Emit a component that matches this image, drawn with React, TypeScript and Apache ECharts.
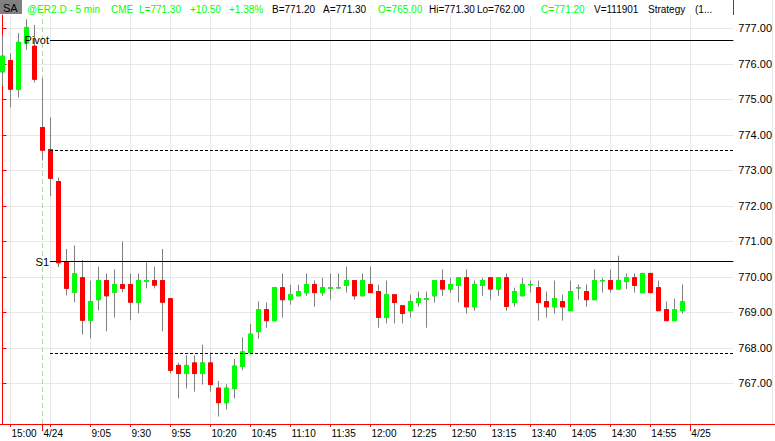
import React, { useEffect, useRef } from "react";
import * as echarts from "echarts";

// ---- DATA (5-min bars: 4/23 14:55..15:15, 4/24 8:35..15:15) ----
const opens = [
  775.78, 776.10, 775.29, 776.59, 776.50, 774.21, 773.59, 772.69, 770.43, 769.57,
  769.98, 768.78, 769.36, 769.90, 769.57, 769.79, 769.79, 769.29, 769.88, 769.90,
  769.90, 769.39, 767.51, 767.28, 767.58, 767.28, 767.58, 766.87, 766.46, 766.86,
  767.48, 767.87, 768.46, 769.08, 768.77, 769.70, 769.36, 769.47, 769.56, 769.79,
  769.56, 769.68, 769.69, 769.76, 769.90, 769.47, 769.79, 769.59, 768.86, 769.50,
  769.19, 769.05, 769.28, 769.37, 769.47, 769.90, 769.66, 769.76, 769.98, 769.16,
  769.76, 769.98, 769.66, 769.98, 769.28, 769.47, 769.78, 769.70, 769.31, 769.16,
  769.31, 769.05, 769.69, 769.59, 769.36, 769.89, 769.90, 769.66, 769.87, 769.98,
  769.56, 770.10, 769.70, 769.08, 768.77, 769.05,
];
const closes = [
  776.22, 775.29, 776.61, 777.03, 775.57, 773.57, 772.78, 770.40, 769.68, 770.09,
  768.78, 769.31, 769.90, 769.47, 769.79, 769.68, 769.29, 769.90, 769.90, 769.77,
  769.29, 767.37, 767.28, 767.51, 767.28, 767.58, 766.97, 766.46, 766.87, 767.49,
  767.89, 768.39, 769.08, 768.77, 769.70, 769.36, 769.50, 769.59, 769.79, 769.56,
  769.70, 769.70, 769.70, 769.90, 769.47, 769.90, 769.56, 768.86, 769.50, 769.28,
  768.97, 769.31, 769.39, 769.39, 769.90, 769.66, 769.79, 769.98, 769.16, 769.79,
  769.90, 769.66, 769.98, 769.17, 769.59, 769.79, 769.79, 769.28, 769.16, 769.39,
  769.16, 769.59, 769.70, 769.36, 769.90, 769.90, 769.66, 769.90, 769.98, 769.76,
  770.10, 769.56, 769.05, 768.77, 769.08, 769.30,
];
const lows = [
  775.38, 774.78, 775.06, 776.40, 775.48, 773.28, 772.28, 770.28, 769.48, 769.29,
  768.38, 768.27, 769.06, 768.47, 768.86, 769.57, 768.78, 768.98, 769.68, 769.68,
  768.47, 767.28, 766.58, 766.86, 766.77, 766.97, 766.77, 766.07, 766.27, 766.58,
  767.37, 767.82, 768.26, 768.57, 768.75, 768.86, 769.22, 769.47, 769.47, 769.16,
  769.47, 769.36, 769.68, 769.56, 769.36, 769.47, 769.56, 768.57, 768.69, 768.69,
  768.69, 768.86, 769.16, 768.57, 769.28, 769.47, 769.56, 769.28, 768.97, 769.05,
  769.47, 769.36, 769.47, 769.05, 769.16, 769.47, 769.56, 768.77, 768.86, 768.97,
  768.77, 769.05, 769.36, 769.16, 769.36, 769.56, 769.56, 769.65, 769.66, 769.56,
  769.54, 769.54, 769.05, 768.77, 768.77, 768.97,
];
const highs = [
  776.81, 776.30, 776.87, 777.26, 777.10, 775.60, 774.50, 772.80, 770.79, 770.89,
  770.48, 769.90, 770.29, 770.10, 770.21, 771.00, 770.10, 770.10, 770.41, 770.29,
  770.79, 769.40, 767.59, 767.79, 767.79, 768.09, 767.87, 767.07, 766.98, 767.69,
  768.30, 768.68, 769.31, 769.28, 769.72, 770.10, 769.78, 769.78, 770.10, 769.90,
  769.98, 770.10, 770.10, 770.29, 769.90, 770.10, 770.29, 769.78, 769.90, 769.50,
  769.19, 769.50, 769.59, 769.59, 769.92, 770.21, 769.98, 769.99, 770.21, 769.90,
  769.98, 769.99, 770.00, 770.10, 769.70, 769.98, 769.90, 769.90, 769.59, 769.90,
  769.50, 769.90, 769.79, 769.79, 770.21, 769.98, 770.21, 770.60, 770.10, 770.10,
  770.12, 770.12, 769.90, 769.31, 769.39, 769.79,
];

// x-axis labels (bar index -> label)
const xLabelBars = [1, 5, 11, 16, 21, 26, 31, 36, 41, 46, 51, 56, 61, 66, 71, 76, 81, 86];
const xLabelTexts = [
  "15:00", "4/24", "9:05", "9:30", "9:55", "10:20", "10:45", "11:10", "11:35",
  "12:00", "12:25", "12:50", "13:15", "13:40", "14:05", "14:30", "14:55", "4/25",
];
const xGridBars = [1, 6, 11, 16, 21, 26, 31, 36, 41, 46, 51, 56, 61, 66, 71, 76, 81, 86];
const sessionBars = [5, 86];
const dayStartBar = 5;

const yTicks = [767, 768, 769, 770, 771, 772, 773, 774, 775, 776, 777];

// pivot levels
const levelNames = ["Pivot", "", "S1", ""];
const levelValues = [776.68, 773.57, 770.43, 767.86];
const levelDashed = [false, true, false, true];

// header
const headerTexts = [
  "@ER2.D - 5 min", "CME", "L=771.30", "+10.50", "+1.38%", "B=771.20", "A=771.30",
  "O=765.00", "Hi=771.30", "Lo=762.00", "C=771.20", "V=111901", "Strategy", "(1...",
];
const headerGreen = [true, true, true, true, true, false, false, true, false, false, true, false, false, false];

// ---- LAYOUT ----
const headerX = [27, 111, 139, 190, 229, 272, 323, 378, 429, 477, 541, 594, 648, 695];
const X_MIN = -0.3125;
const X_MAX = 91.375;
const Y_MIN = 765.859;
const Y_MAX = 777.38;
const LEVEL_START = 5.94;
const FONT = "'Liberation Sans', Arial, sans-serif";
const GREEN = "#00ff00";
const RED = "#ff0000";
const GRID = "#e8e8e8";

function buildOption() {
  const wickData = opens.map((o, i) => [i, o, closes[i], lows[i], highs[i]]);
  const bodyData = opens.map((o, i) => [i, o, closes[i], Math.min(o, closes[i]), Math.max(o, closes[i])]);
  const lastClose = closes[closes.length - 1];

  const levelLines: any[] = levelValues.map((v, k) => [
    {
      coord: [LEVEL_START, v],
      lineStyle: { color: "#000", width: 1, type: levelDashed[k] ? [3, 2] : "solid" },
      label: {
        show: levelNames[k] !== "",
        position: "start",
        distance: 1,
        formatter: levelNames[k],
        color: "#000",
        fontSize: 11,
        fontFamily: FONT,
      },
    },
    { coord: [X_MAX, v] },
  ]);

  const graphics: any[] = [
    { type: "rect", z: 100, shape: { x: 0, y: 0, width: 22, height: 14 }, style: { fill: "#808080" } },
    {
      type: "text", z: 101, x: 3, y: 8,
      style: { text: "SA", fill: "#000", font: `11px ${FONT}`, textVerticalAlign: "middle" },
    },
    ...headerTexts.map((t, k) => ({
      type: "text", z: 101, x: headerX[k], y: 9.5,
      style: { text: t, fill: headerGreen[k] ? GREEN : "#000", font: `10px ${FONT}`, textVerticalAlign: "middle" },
    })),
    { type: "line", z: 100, shape: { x1: 733.5, y1: 0, x2: 733.5, y2: 15 }, style: { stroke: RED, lineWidth: 1 } },
    { type: "line", z: 100, shape: { x1: 733, y1: 424.5, x2: 775, y2: 424.5 }, style: { stroke: RED, lineWidth: 1 } },
    { type: "line", z: 1, shape: { x1: 772.5, y1: 0, x2: 772.5, y2: 424 }, style: { stroke: GRID, lineWidth: 1 } },
  ];

  return {
    animation: false,
    backgroundColor: "#ffffff",
    textStyle: { fontFamily: FONT },
    grid: { left: 0, right: 41.5, top: 15, bottom: 17, containLabel: false },
    xAxis: [
      {
        type: "value",
        min: X_MIN,
        max: X_MAX,
        position: "bottom",
        axisLine: { show: true, onZero: false, lineStyle: { color: RED, width: 1 } },
        axisTick: { show: true, length: 3, customValues: xGridBars, lineStyle: { color: RED } },
        axisLabel: {
          show: true,
          customValues: xLabelBars,
          formatter: (v: number) => xLabelTexts[xLabelBars.indexOf(Math.round(v))] ?? "",
          align: "left",
          margin: 4,
          padding: [0, 0, 0, 1],
          color: "#000",
          fontSize: 10,
          fontFamily: FONT,
        },
        splitLine: { show: true, lineStyle: { color: GRID, width: 1 } },
      },
      {
        type: "value",
        min: X_MIN,
        max: X_MAX,
        position: "bottom",
        axisLine: { show: false },
        axisTick: { show: true, length: 7, customValues: sessionBars, lineStyle: { color: RED } },
        axisLabel: { show: false },
        splitLine: { show: false },
      },
    ],
    yAxis: {
      type: "value",
      position: "right",
      min: Y_MIN,
      max: Y_MAX,
      axisLine: { show: true, lineStyle: { color: RED, width: 1 } },
      axisTick: { show: true, length: 4, customValues: yTicks, lineStyle: { color: RED } },
      axisLabel: {
        customValues: yTicks,
        formatter: (v: number) => v.toFixed(2),
        margin: 5,
        color: "#000",
        fontSize: 11,
        fontFamily: FONT,
      },
      splitLine: { show: true, lineStyle: { color: GRID, width: 1 } },
    },
    graphic: graphics,
    series: [
      {
        type: "candlestick",
        xAxisIndex: 0,
        data: wickData,
        encode: { x: 0, y: [1, 2, 3, 4] },
        barWidth: 4,
        z: 2,
        itemStyle: { color: "#808080", color0: "#808080", borderColor: "#808080", borderColor0: "#808080", borderWidth: 1 },
        markLine: {
          silent: true,
          z: 1,
          symbol: ["none", "none"],
          data: [
            {
              xAxis: dayStartBar,
              lineStyle: { color: "#a8dca8", width: 1, type: [5, 3] },
              label: { show: false },
            },
          ],
        },
      },
      {
        type: "candlestick",
        xAxisIndex: 0,
        data: bodyData,
        encode: { x: 0, y: [1, 2, 3, 4] },
        barWidth: 4,
        z: 3,
        itemStyle: { color: GREEN, color0: RED, borderColor: GREEN, borderColor0: RED, borderWidth: 1 },
        markLine: {
          silent: true,
          symbol: ["none", "none"],
          data: [
            ...levelLines,
            {
              yAxis: lastClose,
              lineStyle: { opacity: 0, width: 0 },
              label: {
                show: true,
                position: "end",
                distance: 1,
                formatter: lastClose.toFixed(2),
                backgroundColor: GREEN,
                color: "#ffffff",
                padding: [0, 6, 0, 4],
                lineHeight: 12,
                fontSize: 11,
                fontFamily: FONT,
              },
            },
          ],
        },
      },
    ],
  };
}

export default function App() {
  const ref = useRef<HTMLDivElement>(null);
  useEffect(() => {
    const chart = echarts.init(ref.current!, null, { renderer: "svg" });
    chart.setOption(buildOption() as any);
    return () => chart.dispose();
  }, []);
  return <div ref={ref} style={{ position: "fixed", left: 0, top: 0, width: 775, height: 441, background: "#fff" }} />;
}
